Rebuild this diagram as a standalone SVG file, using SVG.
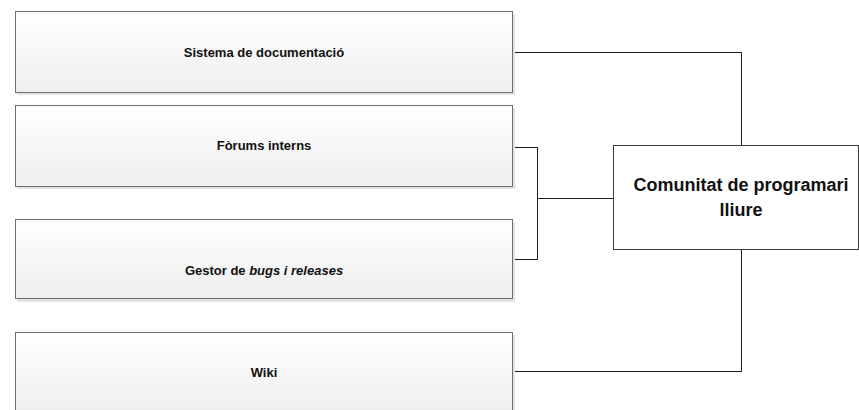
<svg xmlns="http://www.w3.org/2000/svg" width="859" height="410" viewBox="0 0 859 410">
  <defs>
    <linearGradient id="boxFill" x1="0" y1="0" x2="0" y2="1">
      <stop offset="0" stop-color="#ffffff"/>
      <stop offset="1" stop-color="#eeeeee"/>
    </linearGradient>
    <style>
      .shadow { fill: #e3e3e3; }
      .box { fill: url(#boxFill); stroke: #6e6e6e; stroke-width: 1; }
      .hub { fill: #ffffff; stroke: #3c3c3c; stroke-width: 1; }
      .label { font-family: "Liberation Sans", Arial, sans-serif; font-weight: bold; font-size: 13px; fill: #111111; text-anchor: middle; }
      .hub-label { font-family: "Liberation Sans", Arial, sans-serif; font-weight: bold; font-size: 18px; fill: #111111; text-anchor: middle; }
      .link { fill: none; stroke: #1a1a1a; stroke-width: 1; }
    </style>
  </defs>
  <rect width="859" height="410" fill="#ffffff"/>

  <g id="connectors">
    <polyline class="link" points="512.5,52.5 741.5,52.5 741.5,145.5"/>
    <polyline class="link" points="512.5,147.5 537.5,147.5 537.5,259.5 512.5,259.5"/>
    <polyline class="link" points="537.5,198.5 613.5,198.5"/>
    <polyline class="link" points="512.5,371.5 741.5,371.5 741.5,249.5"/>
  </g>

  <g id="node-documentacio">
    <rect class="shadow" x="17" y="14" width="498" height="81"/>
    <rect class="box" x="15.5" y="11.5" width="497" height="81"/>
    <text class="label" x="264" y="57">Sistema de documentació</text>
  </g>

  <g id="node-forums">
    <rect class="shadow" x="17" y="108" width="498" height="81"/>
    <rect class="box" x="15.5" y="105.5" width="497" height="81"/>
    <text class="label" x="264" y="150">Fòrums interns</text>
  </g>

  <g id="node-gestor">
    <rect class="shadow" x="17" y="222" width="498" height="80"/>
    <rect class="box" x="15.5" y="219.5" width="497" height="79"/>
    <text class="label" x="264" y="275">Gestor de <tspan font-style="italic">bugs i releases</tspan></text>
  </g>

  <g id="node-wiki">
    <rect class="shadow" x="17" y="335" width="498" height="81"/>
    <rect class="box" x="15.5" y="332.5" width="497" height="81"/>
    <text class="label" x="264" y="377">Wiki</text>
  </g>

  <g id="node-comunitat">
    <rect class="hub" x="613.5" y="145.5" width="245" height="104"/>
    <text class="hub-label" x="741" y="191">Comunitat de programari</text>
    <text class="hub-label" x="741" y="216">lliure</text>
  </g>
</svg>
